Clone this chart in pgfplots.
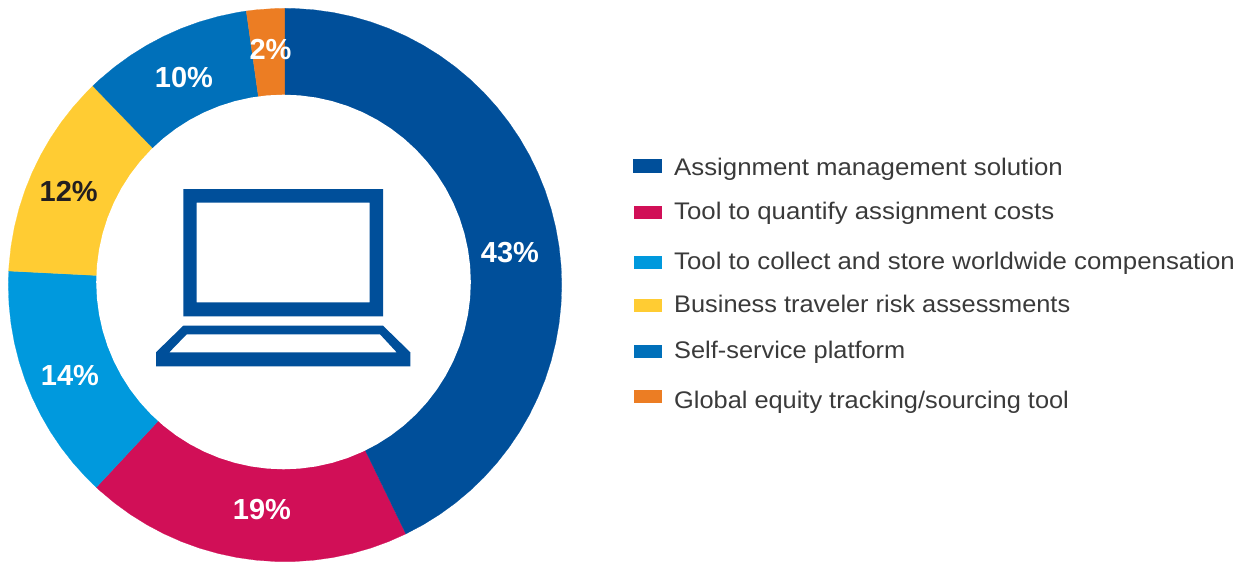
\documentclass[border=0pt]{standalone}
\usepackage{pgfplots}
\pgfplotsset{compat=1.18}
\usepackage{graphicx}
\usepackage{fontspec}
\setmainfont{Liberation Sans}
\newfontfamily\legfont[FakeStretch=1.075]{Liberation Sans}
\definecolor{cA}{HTML}{004F9A}
\definecolor{cB}{HTML}{D10F57}
\definecolor{cC}{HTML}{0099DD}
\definecolor{cD}{HTML}{FFCC33}
\definecolor{cE}{HTML}{0070BA}
\definecolor{cF}{HTML}{EC7D23}
\definecolor{txt}{HTML}{3A3A3A}
\definecolor{dk}{HTML}{231F20}
\pgfplotsset{base/.style={at={(0pt,0pt)},anchor=south west,scale only axis,width=1243pt,height=562pt,hide axis,clip=false}}
\newcommand{\leg}[2]{\node[anchor=base west,inner sep=0pt,text=txt,font=\legfont\fontsize{24}{28}\selectfont] at (axis cs:674,#1) {#2};}
\newcommand{\pct}[4]{\node[anchor=base,inner sep=0pt,text=#4,font=\fontsize{29}{32}\selectfont\bfseries] at (axis cs:#1,#2) {#3};}
\begin{document}
\begin{tikzpicture}[x=1pt,y=1pt]
\useasboundingbox (0,0) rectangle (1243,562);
% donut slices, centre at (285,285) pixels
\begin{axis}[base,xmin=-285,xmax=958,ymin=-277,ymax=285]
\addplot[fill=cB,draw=cB,line width=0.2pt,data cs=polar] coordinates {(0,0) (227,276.7) (228,276.7) (232,276.7) (236,276.7) (240,276.7) (244,276.7) (248,276.7) (252,276.7) (256,276.7) (260,276.7) (264,276.7) (268,276.7) (272,276.7) (276,276.7) (280,276.7) (284,276.7) (288,276.7) (292,276.7) (295.9,276.7)} -- cycle;
\addplot[fill=cC,draw=cC,line width=0.2pt,data cs=polar] coordinates {(0,0) (177.1,276.7) (180,276.7) (184,276.7) (188,276.7) (192,276.7) (196,276.7) (200,276.7) (204,276.7) (208,276.7) (212,276.7) (216,276.7) (220,276.7) (224,276.7) (227,276.7)} -- cycle;
\addplot[fill=cD,draw=cD,line width=0.2pt,data cs=polar] coordinates {(0,0) (134,276.7) (136,276.7) (140,276.7) (144,276.7) (148,276.7) (152,276.7) (156,276.7) (160,276.7) (164,276.7) (168,276.7) (172,276.7) (176,276.7) (177.1,276.7)} -- cycle;
\addplot[fill=cE,draw=cE,line width=0.2pt,data cs=polar] coordinates {(0,0) (98.05,276.7) (100,276.7) (104,276.7) (108,276.7) (112,276.7) (116,276.7) (120,276.7) (124,276.7) (128,276.7) (132,276.7) (134,276.7)} -- cycle;
\addplot[fill=cF,draw=cF,line width=0.2pt,data cs=polar] coordinates {(0,0) (90,276.7) (92,276.7) (96,276.7) (98.05,276.7)} -- cycle;
\addplot[fill=cA,draw=cA,line width=0.2pt,data cs=polar] coordinates {(0,0) (-64.1,276.7) (-60,276.7) (-56,276.7) (-52,276.7) (-48,276.7) (-44,276.7) (-40,276.7) (-36,276.7) (-32,276.7) (-28,276.7) (-24,276.7) (-20,276.7) (-16,276.7) (-12,276.7) (-8,276.7) (-4,276.7) (0,276.7) (4,276.7) (8,276.7) (12,276.7) (16,276.7) (20,276.7) (24,276.7) (28,276.7) (32,276.7) (36,276.7) (40,276.7) (44,276.7) (48,276.7) (52,276.7) (56,276.7) (60,276.7) (64,276.7) (68,276.7) (72,276.7) (76,276.7) (80,276.7) (84,276.7) (88,276.7) (90,276.7)} -- cycle;
\end{axis}
% white centre, centre at (283.5,282) pixels
\begin{axis}[base,xmin=-283.5,xmax=959.5,ymin=-280,ymax=282]
\addplot[fill=white,draw=none,data cs=polar] coordinates {(0,187.3) (5,187.3) (10,187.3) (15,187.3) (20,187.3) (25,187.3) (30,187.3) (35,187.3) (40,187.3) (45,187.3) (50,187.3) (55,187.3) (60,187.3) (65,187.3) (70,187.3) (75,187.3) (80,187.3) (85,187.3) (90,187.3) (95,187.3) (100,187.3) (105,187.3) (110,187.3) (115,187.3) (120,187.3) (125,187.3) (130,187.3) (135,187.3) (140,187.3) (145,187.3) (150,187.3) (155,187.3) (160,187.3) (165,187.3) (170,187.3) (175,187.3) (180,187.3) (185,187.3) (190,187.3) (195,187.3) (200,187.3) (205,187.3) (210,187.3) (215,187.3) (220,187.3) (225,187.3) (230,187.3) (235,187.3) (240,187.3) (245,187.3) (250,187.3) (255,187.3) (260,187.3) (265,187.3) (270,187.3) (275,187.3) (280,187.3) (285,187.3) (290,187.3) (295,187.3) (300,187.3) (305,187.3) (310,187.3) (315,187.3) (320,187.3) (325,187.3) (330,187.3) (335,187.3) (340,187.3) (345,187.3) (350,187.3) (355,187.3)} -- cycle;
\end{axis}
% everything else in pixel coordinates
\begin{axis}[base,xmin=0,xmax=1243,ymin=0,ymax=562,y dir=reverse]
% laptop
\addplot[fill=cA,draw=none,even odd rule] coordinates {(183.3,189) (383,189) (383,316.3) (183.3,316.3) (183.3,189) (196.7,202.7) (196.7,302.3) (369.7,302.3) (369.7,202.7) (196.7,202.7) (183.3,189)} -- cycle;
\addplot[fill=cA,draw=none,even odd rule] coordinates {(183.3,325.7) (383,325.7) (410.3,352.3) (410.3,366.3) (156,366.3) (156,352.3) (183.3,325.7) (186.7,334.3) (169.3,352.3) (396.7,352.3) (380,334.3) (186.7,334.3) (183.3,325.7)} -- cycle;
% legend swatches
\addplot[fill=cA,draw=none] coordinates {(633,159) (662,159) (662,173) (633,173)} -- cycle;
\addplot[fill=cB,draw=none] coordinates {(634,206) (662,206) (662,219) (634,219)} -- cycle;
\addplot[fill=cC,draw=none] coordinates {(634,256) (662,256) (662,269) (634,269)} -- cycle;
\addplot[fill=cD,draw=none] coordinates {(634,299) (662,299) (662,312) (634,312)} -- cycle;
\addplot[fill=cE,draw=none] coordinates {(634,345) (662,345) (662,358) (634,358)} -- cycle;
\addplot[fill=cF,draw=none] coordinates {(634,390) (662,390) (662,403) (634,403)} -- cycle;
\leg{175}{Assignment management solution}
\leg{219}{Tool to quantify assignment costs}
\leg{269}{Tool to collect and store worldwide compensation}
\leg{312}{\scalebox{0.983}[1]{Business traveler risk assessments}}
\leg{358}{\scalebox{0.983}[1]{Self-service platform}}
\leg{408}{\scalebox{0.983}[1]{Global equity tracking/sourcing tool}}
\pct{510}{262}{43\%}{white}
\pct{262}{519.3}{19\%}{white}
\pct{70}{385}{14\%}{white}
\pct{68.7}{201}{12\%}{dk}
\pct{184}{87.3}{10\%}{white}
\pct{270.5}{59.3}{2\%}{white}
\end{axis}
\end{tikzpicture}
\end{document}
